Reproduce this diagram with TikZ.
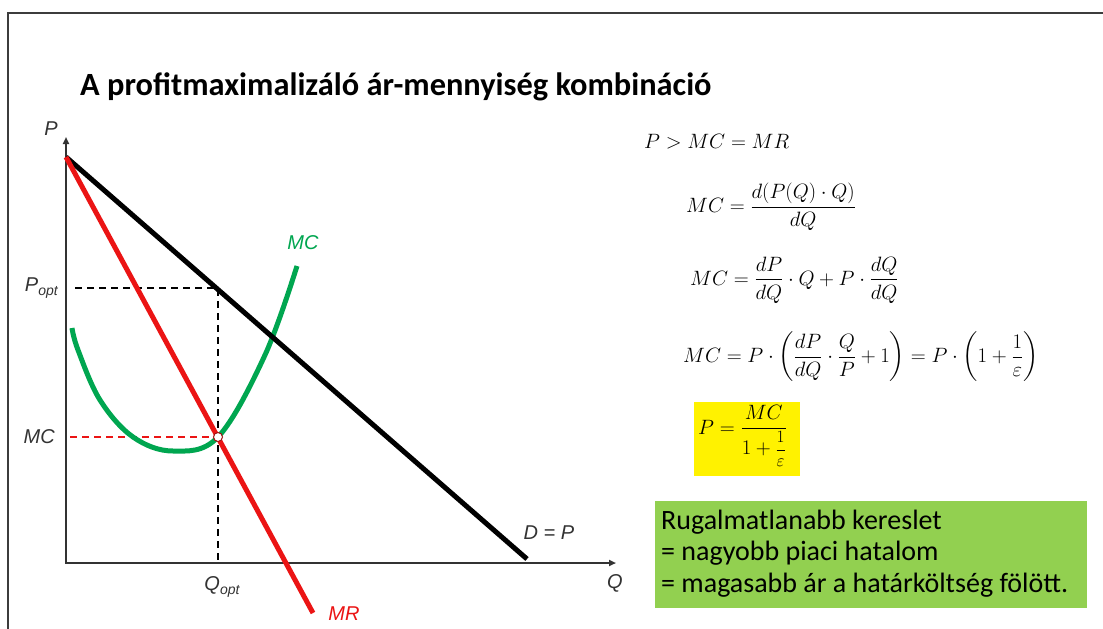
\documentclass[tikz,border=0pt]{standalone}
\usepackage{amsmath}
\usepackage{fontspec}
\setmainfont{Carlito}
\newfontfamily\arialf{Liberation Sans}
\usetikzlibrary{arrows.meta}
\definecolor{mcgreen}{RGB}{0,166,80}
\definecolor{mrred}{RGB}{235,20,20}
\definecolor{boxgreen}{RGB}{146,208,80}
\definecolor{framegray}{RGB}{60,60,60}
\newcommand\lsub[1]{\raisebox{-0.45ex}{\fontsize{14}{14}\selectfont #1}}
\newcommand\smallinv{\mbox{\fontsize{18}{20}\selectfont$\displaystyle\frac{1}{\varepsilon}$}}
\tikzset{
  lbl/.style={font=\arialf\itshape\fontsize{20}{24}\selectfont, inner sep=0pt, text=black!80},
  axisline/.style={line width=1.8pt, draw=black!80},
  dline/.style={line width=5pt, draw=black},
  mrline/.style={line width=5pt, draw=mrred},
  mcline/.style={line width=5pt, draw=mcgreen},
  guide/.style={line width=1.8pt, dash pattern=on 7pt off 5pt},
  eq/.style={anchor=west, inner sep=0pt, font=\fontsize{20.5}{24}\selectfont},
}
\begin{document}
\begin{tikzpicture}[x=1pt,y=-1pt]
\useasboundingbox (0,0) rectangle (1103,629);
\fill[white] (0,0) rectangle (1103,629);
\draw[line width=2pt, framegray] (1103,13) -- (8,13) -- (8,629);

\node[anchor=base west, inner sep=0pt, font=\fontsize{32.4}{36}\selectfont\bfseries] (title) at (80,95) {A profitmaximalizáló ár-mennyiség kombináció};

% coordinates
\coordinate (Ytop) at (66,137);
\coordinate (O) at (66,563);
\coordinate (Xend) at (616,563);
\coordinate (A) at (66,157);
\coordinate (Dend) at (527,559);
\coordinate (MRend) at (313,613);
\coordinate (E) at (218,288);
\coordinate (F) at (218,437);
\coordinate (Qb) at (218,563);
\coordinate (Ph) at (75,288);
\coordinate (Mh) at (70,437);

% axes
\draw[axisline, {Triangle[length=7pt,width=6pt]}-{Triangle[length=7pt,width=6pt]}] (Ytop) -- (O) -- (Xend);

% guides
\draw[guide, black] (Ph) -- (E) -- (Qb);
\draw[guide, mrred] (Mh) -- (F);

% curves
\draw[mcline] plot[smooth, tension=0.6] coordinates {(72,328) (78,350) (100,400) (133,437) (173,451) (218,437) (265,355) (297,266)};
\draw[dline] (A) -- (Dend);
\draw[mrline] (A) -- (MRend);
\node[circle, draw=mrred!70!black, fill=white, line width=1pt, minimum size=9pt, inner sep=0pt] (pt) at (F) {};

% labels
\node[lbl] (Pl) at (51,129) {P};
\node[lbl] (Ql) at (615,583) {Q};
\node[lbl, anchor=east] (Popt) at (58,288) {P\lsub{opt}};
\node[lbl, anchor=east] (MCl) at (55,437) {MC};
\node[lbl] (Qopt) at (222,587) {Q\lsub{opt}};
\node[lbl, text=mcgreen] (MCc) at (303,243) {MC};
\node[lbl, text=mrred] (MRl) at (344,614) {MR};
\node[lbl] (DP) at (549,533) {D = P};

% equations
\node[eq] (e1) at (644,142) {$P > MC = MR$};
\node[eq] (e2) at (686,207) {$MC = \dfrac{d(P(Q)\cdot Q)}{dQ}$};
\node[eq] (e3) at (690,280) {$MC = \dfrac{dP}{dQ}\cdot Q + P\cdot\dfrac{dQ}{dQ}$};
\node[eq] (e4) at (683,357) {$MC = P\cdot\left(\dfrac{dP}{dQ}\cdot\dfrac{Q}{P}+1\right) = P\cdot\left(1+\dfrac{1}{\varepsilon}\right)$};
\fill[yellow] (694,402) rectangle (800,476);
\node[eq, anchor=base west] (e5) at (698,434) {$P = \dfrac{MC}{1+\smallinv}$};

% green box
\node[anchor=north west, fill=boxgreen, minimum width=432pt, minimum height=107pt, inner sep=0pt] (gbox) at (655,501) {};
\node[anchor=base west, align=left, inner sep=0pt, font=\fontsize{28}{31.5}\selectfont] (gtext) at (661,592) {Rugalmatlanabb kereslet\\= nagyobb piaci hatalom\\= magasabb ár a határköltség fölött.};
\end{tikzpicture}
\end{document}
